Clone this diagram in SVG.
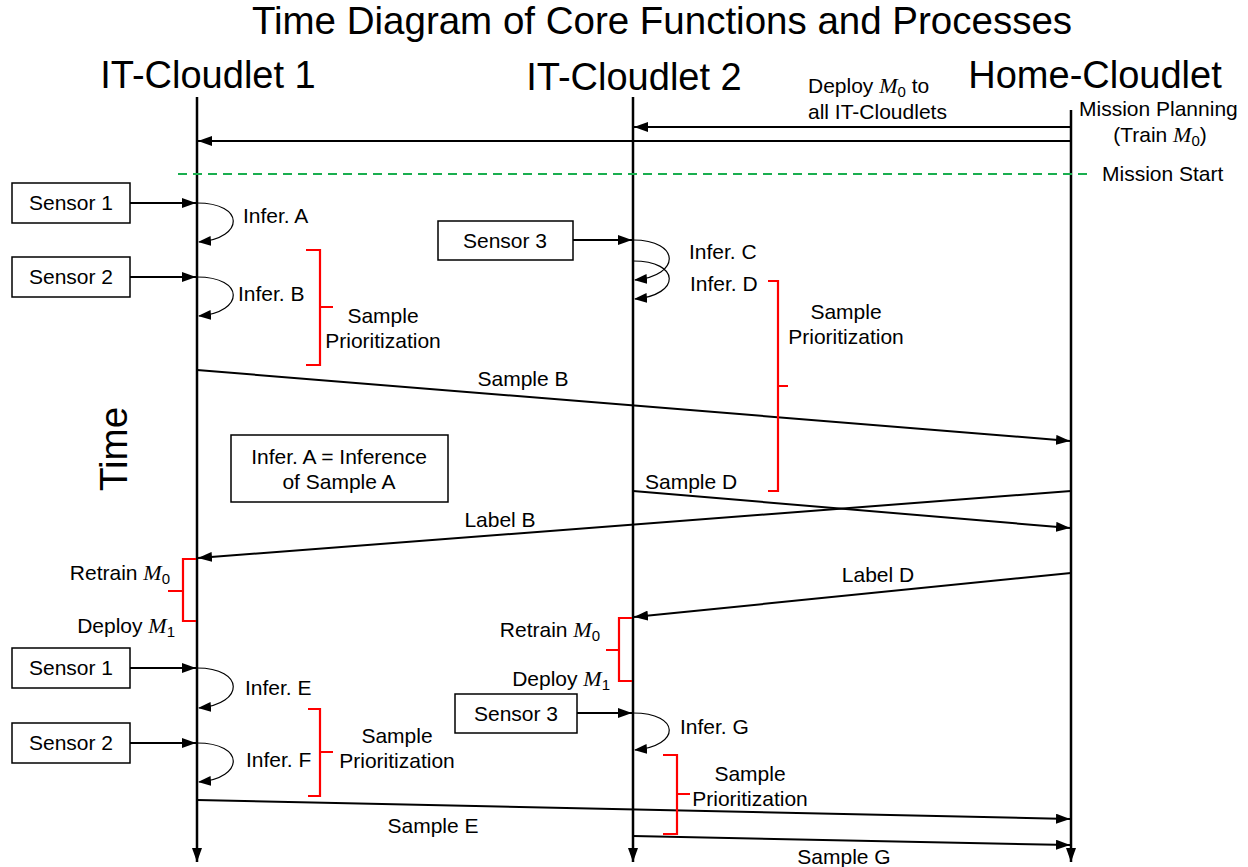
<svg xmlns="http://www.w3.org/2000/svg" width="1248" height="867" viewBox="0 0 1248 867">
<style>
text{font-family:"Liberation Sans",Arial,sans-serif;fill:#000}
.t{font-size:38.5px}
.h{font-size:38px}
.l{font-size:21px}
.s{font-size:21px}
.m{font-family:"Liberation Serif","Times New Roman",serif;font-style:italic}
.life{stroke:#000;stroke-width:2.5;fill:none}
.msg{stroke:#000;stroke-width:2;fill:none}
.loop{stroke:#000;stroke-width:1.2;fill:none}
.box{fill:#fff;stroke:#000;stroke-width:1.5}
.br{stroke:#ff0000;stroke-width:2.2;fill:none}
.dash{stroke:#1aae4f;stroke-width:2;stroke-dasharray:9,6;fill:none}
</style>
<defs>
<marker id="ah" viewBox="0 0 14 10" refX="14" refY="5" markerWidth="14" markerHeight="10" markerUnits="userSpaceOnUse" orient="auto"><path d="M0,0 L14,5 L0,10 z" fill="#000"/></marker>
<marker id="ahs" viewBox="0 0 13 10" refX="12" refY="5" markerWidth="13" markerHeight="10" markerUnits="userSpaceOnUse" orient="auto"><path d="M0,0 L13,5 L0,10 z" fill="#000"/></marker>
</defs>
<rect width="1248" height="867" fill="#fff"/>
<text class="t" x="662" y="34" text-anchor="middle">Time Diagram of Core Functions and Processes</text>
<g id="it1">
<text class="h" x="208" y="88" text-anchor="middle">IT-Cloudlet 1</text>
<line class="life" x1="197" y1="97" x2="197" y2="862" marker-end="url(#ah)"/>
</g>
<g id="it2">
<text class="h" x="634" y="90" text-anchor="middle">IT-Cloudlet 2</text>
<line class="life" x1="633" y1="97" x2="633" y2="862" marker-end="url(#ah)"/>
</g>
<g id="home">
<text class="h" x="1095" y="88" text-anchor="middle">Home-Cloudlet</text>
<line class="life" x1="1071" y1="110" x2="1071" y2="862" marker-end="url(#ah)"/>
<text class="l" x="1079" y="116">Mission Planning</text>
<text class="l" x="1160" y="142" text-anchor="middle">(Train <tspan class="m" font-size="22">M</tspan><tspan font-size="15" dy="4">0</tspan><tspan dy="-4">)</tspan></text>
</g>
<g id="mission-start">
<line class="dash" x1="178" y1="174" x2="1092" y2="174"/>
<text class="l" x="1102" y="181">Mission Start</text>
</g>
<g id="sensor1a"><rect class="box" x="12" y="183" width="118" height="40"/><text class="s" x="71" y="210" text-anchor="middle">Sensor 1</text></g>
<g id="sensor2a"><rect class="box" x="12" y="257" width="118" height="40"/><text class="s" x="71" y="284" text-anchor="middle">Sensor 2</text></g>
<g id="sensor3a"><rect class="box" x="438" y="221" width="135" height="39"/><text class="s" x="505" y="248" text-anchor="middle">Sensor 3</text></g>
<g id="legend"><rect class="box" x="231" y="435" width="217" height="67"/><text class="s" x="339" y="464" text-anchor="middle">Infer. A = Inference</text><text class="s" x="339" y="489" text-anchor="middle">of Sample A</text></g>
<g id="sensor1b"><rect class="box" x="12" y="648" width="118" height="40"/><text class="s" x="71" y="675" text-anchor="middle">Sensor 1</text></g>
<g id="sensor2b"><rect class="box" x="12" y="723" width="118" height="40"/><text class="s" x="71" y="750" text-anchor="middle">Sensor 2</text></g>
<g id="sensor3b"><rect class="box" x="455" y="694" width="122" height="39"/><text class="s" x="516" y="721" text-anchor="middle">Sensor 3</text></g>
<text class="t" x="0" y="0" transform="translate(127,449) rotate(-90)" text-anchor="middle">Time</text>
<g id="connectors">
<line class="msg" x1="1071" y1="127" x2="634" y2="127" marker-end="url(#ah)"/>
<line class="msg" x1="1071" y1="141" x2="198" y2="141" marker-end="url(#ah)"/>
<line class="msg" x1="130" y1="203" x2="196" y2="203" marker-end="url(#ah)"/>
<line class="msg" x1="130" y1="277" x2="196" y2="277" marker-end="url(#ah)"/>
<line class="msg" x1="573" y1="240" x2="632" y2="240" marker-end="url(#ah)"/>
<line class="msg" x1="130" y1="668" x2="196" y2="668" marker-end="url(#ah)"/>
<line class="msg" x1="130" y1="743" x2="196" y2="743" marker-end="url(#ah)"/>
<line class="msg" x1="577" y1="713" x2="632" y2="713" marker-end="url(#ah)"/>
<path class="loop" d="M197,203 C245,203 245,238 199,242" marker-end="url(#ahs)"/>
<path class="loop" d="M197,277 C245,277 245,312 199,316" marker-end="url(#ahs)"/>
<path class="loop" d="M633,240 C681,240 681,276 635,280" marker-end="url(#ahs)"/>
<path class="loop" d="M633,261 C681,261 681,295 635,299" marker-end="url(#ahs)"/>
<path class="loop" d="M197,668 C245,668 245,704 199,708" marker-end="url(#ahs)"/>
<path class="loop" d="M197,743 C245,743 245,778 199,782" marker-end="url(#ahs)"/>
<path class="loop" d="M633,713 C681,713 681,746 635,750" marker-end="url(#ahs)"/>
<line class="msg" x1="197" y1="370" x2="1070" y2="441" marker-end="url(#ah)"/>
<line class="msg" x1="633" y1="491" x2="1070" y2="528" marker-end="url(#ah)"/>
<line class="msg" x1="1071" y1="491" x2="198" y2="558" marker-end="url(#ah)"/>
<line class="msg" x1="1071" y1="573" x2="634" y2="617" marker-end="url(#ah)"/>
<line class="msg" x1="197" y1="800" x2="1070" y2="819" marker-end="url(#ah)"/>
<line class="msg" x1="633" y1="836" x2="1070" y2="845" marker-end="url(#ah)"/>
</g>
<g id="labels">
<text class="l" x="808" y="93">Deploy <tspan class="m" font-size="22">M</tspan><tspan font-size="15" dy="4">0</tspan><tspan dy="-4"> to</tspan></text>
<text class="l" x="808" y="119">all IT-Cloudlets</text>
<text class="l" x="243" y="223">Infer. A</text>
<text class="l" x="238" y="301">Infer. B</text>
<text class="l" x="689" y="259">Infer. C</text>
<text class="l" x="690" y="291">Infer. D</text>
<text class="l" x="523" y="386" text-anchor="middle">Sample B</text>
<text class="l" x="645" y="489">Sample D</text>
<text class="l" x="500" y="527" text-anchor="middle">Label B</text>
<text class="l" x="878" y="582" text-anchor="middle">Label D</text>
<text class="l" x="170" y="580" text-anchor="end">Retrain <tspan class="m" font-size="22">M</tspan><tspan font-size="15" dy="4">0</tspan></text>
<text class="l" x="175" y="633" text-anchor="end">Deploy <tspan class="m" font-size="22">M</tspan><tspan font-size="15" dy="4">1</tspan></text>
<text class="l" x="600" y="637" text-anchor="end">Retrain <tspan class="m" font-size="22">M</tspan><tspan font-size="15" dy="4">0</tspan></text>
<text class="l" x="610" y="686" text-anchor="end">Deploy <tspan class="m" font-size="22">M</tspan><tspan font-size="15" dy="4">1</tspan></text>
<text class="l" x="245" y="695">Infer. E</text>
<text class="l" x="246" y="767">Infer. F</text>
<text class="l" x="680" y="734">Infer. G</text>
<text class="l" x="433" y="833" text-anchor="middle">Sample E</text>
<text class="l" x="844" y="864" text-anchor="middle">Sample G</text>
<text class="l" x="383" y="323" text-anchor="middle">Sample</text>
<text class="l" x="383" y="348" text-anchor="middle">Prioritization</text>
<text class="l" x="846" y="319" text-anchor="middle">Sample</text>
<text class="l" x="846" y="344" text-anchor="middle">Prioritization</text>
<text class="l" x="397" y="743" text-anchor="middle">Sample</text>
<text class="l" x="397" y="768" text-anchor="middle">Prioritization</text>
<text class="l" x="750" y="781" text-anchor="middle">Sample</text>
<text class="l" x="750" y="806" text-anchor="middle">Prioritization</text>
</g>
<g id="braces">
<path class="br" d="M306,250 L320,250 L320,307 L333,307 M320,307 L320,365 L306,365"/>
<path class="br" d="M768,281 L778,281 L778,386 L788,386 M778,386 L778,491 L768,491"/>
<path class="br" d="M196,559 L183,559 L183,591 L168,591 M183,591 L183,621 L196,621"/>
<path class="br" d="M632,618 L619,618 L619,650 L606,650 M619,650 L619,681 L632,681"/>
<path class="br" d="M308,709 L320,709 L320,752 L333,752 M320,752 L320,796 L308,796"/>
<path class="br" d="M663,755 L677,755 L677,794 L690,794 M677,794 L677,834 L663,834"/>
</g>
</svg>
